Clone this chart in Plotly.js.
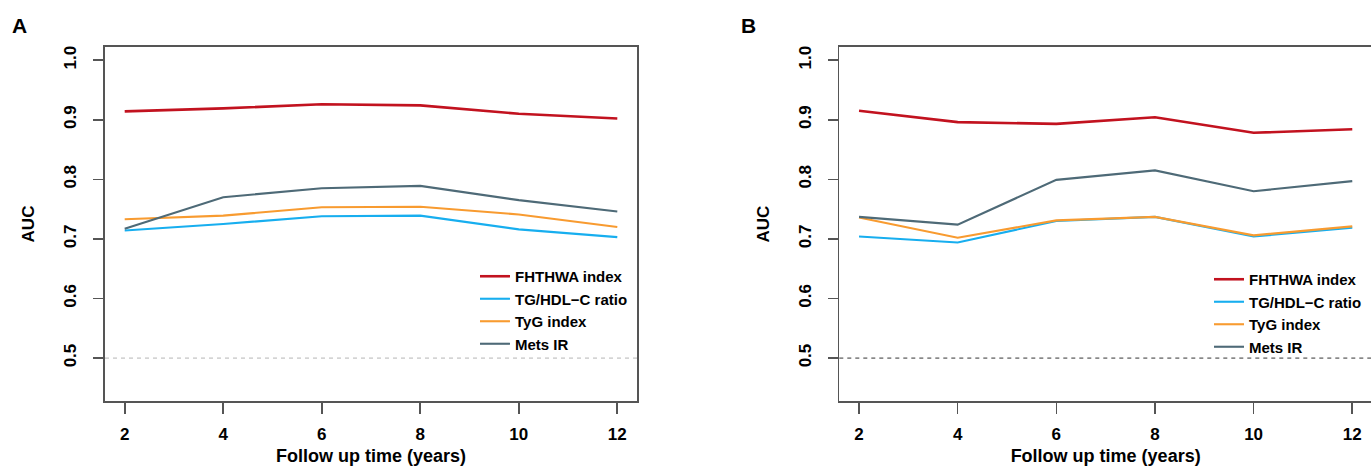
<!DOCTYPE html>
<html>
<head>
<meta charset="utf-8">
<script src="https://cdn.plot.ly/plotly-3.0.1.min.js"></script>
<style>
html,body{margin:0;padding:0;overflow:hidden;background:#fff;width:1371px;height:466px;}
#chart{width:1400px;height:466px;}
</style>
</head>
<body>
<div id="chart"></div>
<script>
// ---- data ----
const years = [2, 4, 6, 8, 10, 12];
const seriesNames = ["FHTHWA index", "TG/HDL\u2212C ratio", "TyG index", "Mets IR"];
const seriesColors = ["#C2121F", "#17AEEF", "#F89B30", "#4E6A77"];
const seriesWidths = [2.6, 2.1, 2.1, 2.1];

// Panel A
const A_fhthwa = [0.914, 0.919, 0.926, 0.924, 0.910, 0.902];
const A_tghdl  = [0.714, 0.725, 0.738, 0.739, 0.716, 0.703];
const A_tyg    = [0.733, 0.739, 0.753, 0.754, 0.741, 0.720];
const A_mets   = [0.717, 0.770, 0.785, 0.789, 0.765, 0.746];

// Panel B
const B_fhthwa = [0.915, 0.896, 0.893, 0.904, 0.878, 0.884];
const B_tghdl  = [0.704, 0.694, 0.730, 0.737, 0.704, 0.719];
const B_tyg    = [0.736, 0.702, 0.731, 0.737, 0.706, 0.721];
const B_mets   = [0.737, 0.724, 0.799, 0.815, 0.780, 0.797];

const yTicks = [0.5, 0.6, 0.7, 0.8, 0.9, 1.0];
const yTickText = ["0.5", "0.6", "0.7", "0.8", "0.9", "1.0"];
const xTitle = "Follow up time (years)";
const yTitle = "AUC";
const refLine = 0.5;

// ---- layout helpers ----
const W = 1400, H = 466;
const FONT = "Liberation Sans, Arial, Helvetica, sans-serif";
const px = v => v / W;
const py = v => 1 - v / H;

const panelA = [A_fhthwa, A_tghdl, A_tyg, A_mets];
const panelB = [B_fhthwa, B_tghdl, B_tyg, B_mets];

const traces = [];
panelA.forEach((vals, i) => traces.push({
  x: years, y: vals, type: "scatter", mode: "lines", name: seriesNames[i],
  line: {color: seriesColors[i], width: seriesWidths[i]},
  xaxis: "x", yaxis: "y", legend: "legend", hoverinfo: "x+y+name"
}));
panelB.forEach((vals, i) => traces.push({
  x: years, y: vals, type: "scatter", mode: "lines", name: seriesNames[i],
  line: {color: seriesColors[i], width: seriesWidths[i]},
  xaxis: "x2", yaxis: "y2", legend: "legend2", hoverinfo: "x+y+name"
}));

const axisLine = "#555555";
function xAxis(domain, anchor) {
  return {
    domain: domain, anchor: anchor, range: [1.6, 12.4],
    tickvals: years, ticktext: years.map(String),
    showgrid: false, zeroline: false,
    showline: true, mirror: true, linecolor: axisLine, linewidth: 1.8,
    ticks: "outside", ticklen: 11, tickwidth: 1.6, tickcolor: axisLine,
    ticklabelstandoff: 6,
    tickfont: {family: FONT, size: 17, color: "#000", weight: "bold"},
    title: {text: xTitle, standoff: 9, font: {family: FONT, size: 18, color: "#000", weight: "bold"}}
  };
}
function yAxis(domain, anchor) {
  return {
    domain: domain, anchor: anchor, range: [0.428, 1.022],
    tickvals: yTicks, ticktext: yTickText, tickangle: -90,
    showgrid: false, zeroline: false,
    showline: true, mirror: true, linecolor: axisLine, linewidth: 1.8,
    ticks: "outside", ticklen: 10, tickwidth: 1.6, tickcolor: axisLine,
    ticklabelstandoff: 10,
    tickfont: {family: FONT, size: 17, color: "#000", weight: "bold"},
    title: {text: yTitle, standoff: 22, font: {family: FONT, size: 17, color: "#000", weight: "bold"}}
  };
}

const yDom = [py(401), py(47)];
const layout = {
  width: W, height: H, autosize: false,
  margin: {l: 0, r: 0, t: 0, b: 0, pad: 0},
  paper_bgcolor: "#fff", plot_bgcolor: "#fff",
  showlegend: true,
  xaxis: xAxis([px(105), px(637)], "y"),
  yaxis: yAxis(yDom, "x"),
  xaxis2: xAxis([px(839.3), px(1372)], "y2"),
  yaxis2: yAxis(yDom, "x2"),
  legend: {
    x: px(475), y: py(260), xanchor: "left", yanchor: "top",
    bgcolor: "rgba(0,0,0,0)", borderwidth: 0,
    font: {family: FONT, size: 15, color: "#000", weight: "bold"},
    tracegroupgap: 0, itemclick: false, itemdoubleclick: false
  },
  legend2: {
    x: px(1209), y: py(263), xanchor: "left", yanchor: "top",
    bgcolor: "rgba(0,0,0,0)", borderwidth: 0,
    font: {family: FONT, size: 15, color: "#000", weight: "bold"},
    tracegroupgap: 0, itemclick: false, itemdoubleclick: false
  },
  shapes: [
    {type: "line", xref: "x domain", yref: "y", x0: 0, x1: 1, y0: refLine, y1: refLine,
     line: {color: "#B5B5B5", width: 1, dash: "4px,4px"}, layer: "below"},
    {type: "line", xref: "x2 domain", yref: "y2", x0: 0, x1: 1, y0: refLine, y1: refLine,
     line: {color: "#333333", width: 1, dash: "4px,4px"}, layer: "below"}
  ],
  annotations: [
    {text: "A", xref: "paper", yref: "paper", x: px(10), y: py(12), xanchor: "left", yanchor: "top",
     showarrow: false, font: {family: FONT, size: 21, color: "#000", weight: "bold"}},
    {text: "B", xref: "paper", yref: "paper", x: px(739), y: py(12), xanchor: "left", yanchor: "top",
     showarrow: false, font: {family: FONT, size: 21, color: "#000", weight: "bold"}}
  ]
};

Plotly.newPlot("chart", traces, layout, {displayModeBar: false, staticPlot: true});
</script>
</body>
</html>
